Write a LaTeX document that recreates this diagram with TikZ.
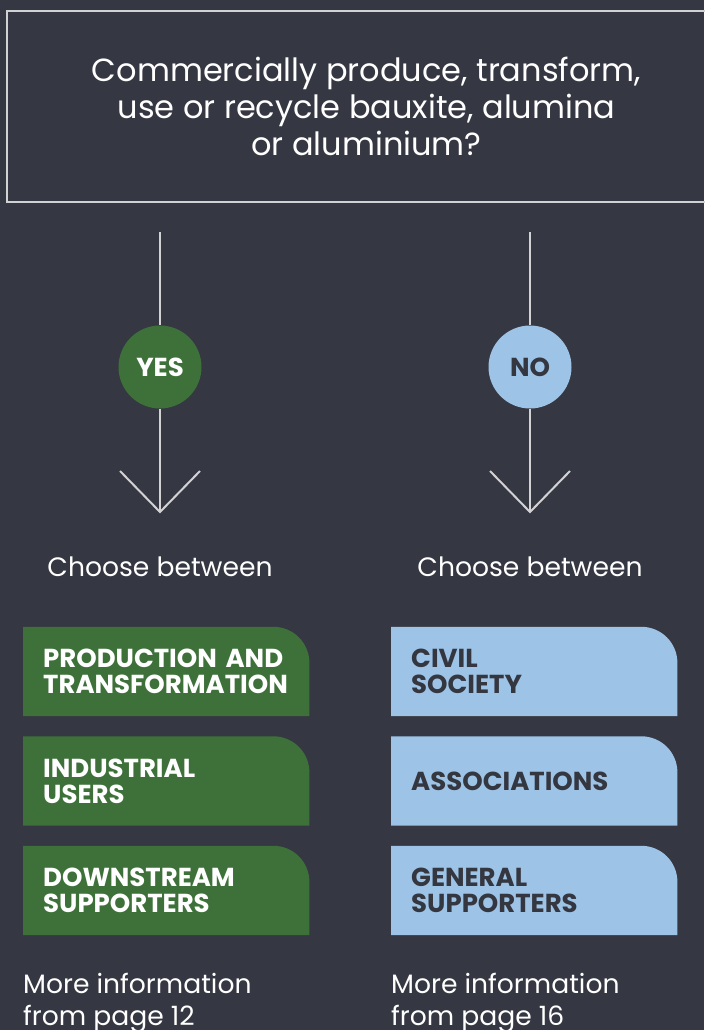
\documentclass[tikz,border=0pt]{standalone}
\usepackage{fontspec}
\setmainfont{Poppins}
\usetikzlibrary{backgrounds}
\definecolor{bgc}{HTML}{353742}
\definecolor{grn}{HTML}{3E713A}
\definecolor{blu}{HTML}{9DC3E6}
\definecolor{dark}{HTML}{343640}
\definecolor{linec}{HTML}{D2D2D4}
\newcommand\tabfill[2]{\begin{scope}[on background layer]\fill[#2] (#1.south west) -- (#1.north west) [rounded corners=36pt] -- (#1.north east) [sharp corners] -- (#1.south east) -- cycle;\end{scope}}
\tikzset{
  qbox/.style={draw=linec, line width=2pt, minimum width=719pt, minimum height=191pt, align=center, text=white, font=\fontsize{32}{37}\selectfont},
  conn/.style={draw=linec, line width=2pt},
  ansc/.style={circle, minimum size=83pt, inner sep=0pt, font=\bfseries\fontsize{26}{30}\selectfont},
  lbl/.style={text=white, font=\fontsize{26.6}{32}\selectfont, inner sep=0pt},
  tab/.style={anchor=west, minimum height=89pt, inner xsep=20pt, text width=246pt, align=left, font=\bfseries\fontsize{26}{26}\selectfont},
  gtab/.style={tab, text=white},
  btab/.style={tab, text=dark}
}
\begin{document}
\begin{tikzpicture}[x=1pt,y=-1pt]
\useasboundingbox (0,0) rectangle (704,1030);
\begin{scope}[on background layer]\fill[bgc] (0,0) rectangle (704,1030);\end{scope}
\node[qbox] (q) at (366.5,106.5) {Commercially produce, transform,\\use or recycle bauxite, alumina\\or aluminium?};
\coordinate (ltop) at (160,232);
\coordinate (ltip) at (160,512);
\coordinate (lL) at (120,471);
\coordinate (lR) at (200,471);
\coordinate (rtop) at (530,232);
\coordinate (rtip) at (530,512);
\coordinate (rL) at (490,471);
\coordinate (rR) at (570,471);
\node[ansc, fill=grn, text=white] (yes) at (160,367) {YES};
\node[ansc, fill=blu, text=dark] (no) at (530,367) {NO};
\draw[conn] (ltop) -- (yes);
\draw[conn] (yes) -- (ltip);
\draw[conn] (lL) -- (ltip) -- (lR);
\draw[conn] (rtop) -- (no);
\draw[conn] (no) -- (rtip);
\draw[conn] (rL) -- (rtip) -- (rR);
\node[lbl] (cy) at (160,567) {Choose between};
\node[lbl] (cn) at (530,567) {Choose between};
\node[gtab] (g1) at (23,671.5) {PRODUCTION AND\\TRANSFORMATION};
\node[gtab] (g2) at (23,781) {INDUSTRIAL\\USERS};
\node[gtab] (g3) at (23,890.5) {DOWNSTREAM\\SUPPORTERS};
\node[btab] (b1) at (391,671.5) {CIVIL\\SOCIETY};
\node[btab] (b2) at (391,781) {ASSOCIATIONS};
\node[btab] (b3) at (391,890.5) {GENERAL\\SUPPORTERS};
\tabfill{g1}{grn}\tabfill{g2}{grn}\tabfill{g3}{grn}
\tabfill{b1}{blu}\tabfill{b2}{blu}\tabfill{b3}{blu}
\node[lbl, anchor=north west, align=left] (m1) at (23,973) {More information\\from page 12};
\node[lbl, anchor=north west, align=left] (m2) at (391,973) {More information\\from page 16};
\end{tikzpicture}
\end{document}
